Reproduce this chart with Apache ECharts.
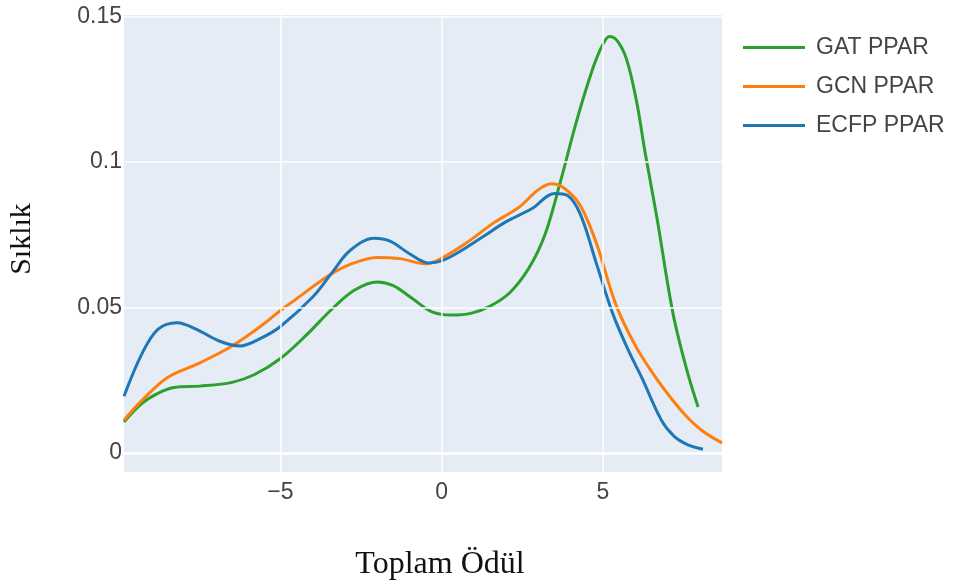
<!DOCTYPE html>
<html>
<head>
<meta charset="utf-8">
<script src="https://cdn.jsdelivr.net/npm/echarts@6/dist/echarts.min.js"></script>
<style>html,body{margin:0;padding:0;background:#fff;}#c{width:958px;height:587px;}</style>
</head>
<body>
<div id="c"></div>
<script>
const seriesNames = ['GAT PPAR', 'GCN PPAR', 'ECFP PPAR'];
const xTicks = [-5, 0, 5];
const yTicks = [0, 0.05, 0.1, 0.15];
const xTickLabels = ['\u22125', '0', '5'];
const yTickLabels = ['0', '0.05', '0.1', '0.15'];

const gatX = [-9.85,-9.3,-8.8,-8.3,-7.5,-6.5,-5.8,-5.0,-4.2,-3.4,-2.7,-2.0,-1.5,-0.9,-0.3,0.3,0.9,1.5,2.1,2.7,3.2,3.67,4.19,4.7,5.0,5.2,5.45,5.74,6.05,6.31,6.67,7.17,7.6,7.95];
const gatY = [0.0107,0.017,0.0205,0.0225,0.023,0.0243,0.027,0.0325,0.0405,0.0495,0.056,0.0588,0.0575,0.053,0.0485,0.0474,0.048,0.0505,0.055,0.0635,0.075,0.0928,0.1144,0.1326,0.1405,0.1431,0.1415,0.135,0.1203,0.103,0.081,0.048,0.0285,0.0158];

const gcnX = [-9.85,-9.3,-8.5,-7.5,-6.5,-5.5,-5.0,-4.5,-3.5,-2.8,-2.0,-1.3,-0.5,0,0.8,1.6,2.4,3.0,3.4,3.8,4.3,4.8,5.4,6.0,6.6,7.1,7.6,8.1,8.69];
const gcnY = [0.0113,0.018,0.026,0.031,0.0368,0.0445,0.049,0.053,0.061,0.065,0.0672,0.0668,0.065,0.067,0.0725,0.079,0.0845,0.0905,0.0925,0.091,0.085,0.072,0.051,0.037,0.0265,0.019,0.0125,0.0075,0.0035];

const ecfpX = [-9.85,-9.3,-8.8,-8.2,-7.6,-6.9,-6.25,-5.6,-5.0,-4.0,-3.4,-2.85,-2.1,-1.6,-1.0,-0.4,0,0.6,1.3,2.0,2.8,3.5,3.9,4.3,4.8,5.3,5.8,6.2,6.8,7.2,7.6,8.1];
const ecfpY = [0.0195,0.034,0.0425,0.0448,0.0425,0.0385,0.0368,0.0395,0.0435,0.0536,0.062,0.0695,0.0738,0.0728,0.0685,0.0653,0.066,0.0695,0.0745,0.0795,0.084,0.0892,0.0885,0.082,0.065,0.048,0.035,0.026,0.0115,0.0058,0.003,0.0013];

const colors = ['#2ca02c', '#ff7f0e', '#1f77b4'];
const xs = [gatX, gcnX, ecfpX];
const ys = [gatY, gcnY, ecfpY];

const chart = echarts.init(document.getElementById('c'));
const dataSeries = seriesNames.map((n, i) => ({
  name: n,
  type: 'line',
  data: xs[i].map((x, j) => [x, ys[i][j]]),
  smooth: 0.35,
  symbol: 'none',
  lineStyle: { width: 3, color: colors[i] },
  itemStyle: { color: colors[i] },
  z: 3
}));

const gridSeries = {
  type: 'line',
  data: [],
  silent: true,
  z: 1,
  markLine: {
    silent: true,
    symbol: 'none',
    label: { show: false },
    lineStyle: { color: '#ffffff', type: 'solid', width: 1.5 },
    data: xTicks.map(v => ({ xAxis: v })).concat(yTicks.map(v => ({ yAxis: v, lineStyle: { width: v === 0 ? 2.5 : 1.5, color: '#ffffff', type: 'solid' } })))
  }
};

chart.setOption({
  animation: false,
  backgroundColor: '#ffffff',
  grid: { left: 124, right: 236, top: 15, bottom: 115, show: true, backgroundColor: '#e5ecf6', borderWidth: 0 },
  xAxis: {
    type: 'value', min: -9.85, max: 8.69,
    axisLine: { show: false }, axisTick: { show: false }, splitLine: { show: false },
    axisLabel: {
      customValues: xTicks,
      formatter: v => xTickLabels[xTicks.indexOf(v)] ?? '',
      fontFamily: 'Liberation Sans', fontSize: 23, color: '#444', margin: 9
    }
  },
  yAxis: {
    type: 'value', min: -0.0065, max: 0.1505,
    axisLine: { show: false }, axisTick: { show: false }, splitLine: { show: false },
    axisLabel: {
      customValues: yTicks,
      formatter: v => { const k = yTicks.findIndex(t => Math.abs(t - v) < 1e-9); return k >= 0 ? yTickLabels[k] : ''; },
      fontFamily: 'Liberation Sans', fontSize: 23, color: '#444', margin: 2
    }
  },
  legend: {
    orient: 'vertical', left: 738, top: 31,
    data: seriesNames,
    icon: 'rect', itemWidth: 62, itemHeight: 3, itemGap: 16,
    textStyle: { fontFamily: 'Liberation Sans', fontSize: 23, lineHeight: 23, color: '#444', padding: [0, 0, 0, 6] }
  },
  graphic: [
    { type: 'text', x: 440, y: 565, style: { text: 'Toplam Ödül', font: '32px "Liberation Serif"', fill: '#111', align: 'center', verticalAlign: 'middle' } },
    { type: 'text', x: 22, y: 239, rotation: Math.PI / 2, style: { text: 'Sıklık', font: '30px "Liberation Serif"', fill: '#111', align: 'center', verticalAlign: 'middle' } }
  ],
  series: [gridSeries].concat(dataSeries)
});
</script>
</body>
</html>
